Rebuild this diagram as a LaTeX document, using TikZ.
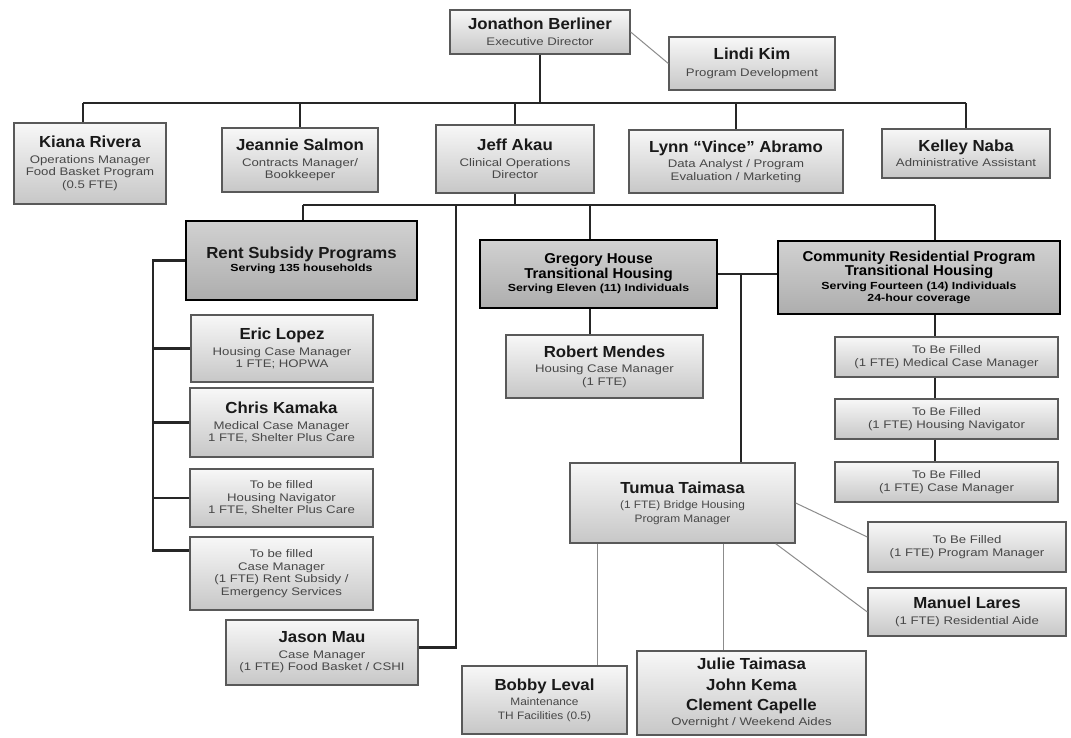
\documentclass[tikz,border=0pt]{standalone}
\usepackage{fontspec}
\setmainfont{Liberation Sans}
\newfontfamily\nmfam[FakeStretch=1.05]{Liberation Sans}
\newfontfamily\sbfam[FakeStretch=1.2]{Liberation Sans}
\newfontfamily\smfam[FakeStretch=1.1]{Liberation Sans}
\newcommand{\nmtxt}[1]{{\nmfam\bfseries\fontsize{16}{19}\selectfont\color{black!90}#1}}
\newcommand{\hdtxt}[1]{{\nmfam\bfseries\fontsize{14.3}{17}\selectfont\color{black}#1}}
\newcommand{\hsubtxt}[1]{{\sbfam\bfseries\fontsize{10.3}{12}\selectfont\color{black}#1}}
\tikzset{
  box/.style={draw=black!65, line width=1.3pt, top color=black!3, bottom color=black!22,
    inner sep=2pt, align=center, text=black!72, font=\sbfam\fontsize{11}{12.5}\selectfont},
  smallbox/.style={box, font=\smfam\fontsize{10.8}{13.5}\selectfont},
  hdr/.style={draw=black, line width=2.6pt, top color=black!18, bottom color=black!32,
    inner sep=2pt, align=center, text=black, font=\sbfam\fontsize{11}{12.5}\selectfont},
  conn/.style={line width=2.2pt, draw=black!85},
  thinl/.style={line width=1pt, draw=black!45},
}
\begin{document}
\begin{tikzpicture}[x=1pt,y=-1pt]
\useasboundingbox (0,0) rectangle (1071,738);
\fill[white] (0,0) rectangle (1071,738);

% top level
\node[box, minimum width=180pt, minimum height=44pt] (jb) at (540,32) {\nmtxt{Jonathon Berliner}\\[3pt]Executive Director};
\node[box, minimum width=166pt, minimum height=53pt] (lk) at (752,63.5) {\nmtxt{Lindi Kim}\\[4pt]Program Development};

\node[box, minimum width=152pt, minimum height=81pt] (kr) at (90,163.5) {\nmtxt{Kiana Rivera}\\[3pt]Operations Manager\\Food Basket Program\\(0.5 FTE)};
\node[box, minimum width=156pt, minimum height=64pt] (js) at (300,160) {\nmtxt{Jeannie Salmon}\\[3pt]Contracts Manager/\\Bookkeeper};
\node[box, minimum width=158pt, minimum height=68pt] (ja) at (515,159) {\nmtxt{Jeff Akau}\\[3pt]Clinical Operations\\Director};
\node[box, minimum width=214pt, minimum height=63pt] (la) at (736,161.5) {\nmtxt{Lynn “Vince” Abramo}\\[3pt]Data Analyst / Program\\Evaluation / Marketing};
\node[box, minimum width=168pt, minimum height=49pt] (kn) at (966,153.5) {\nmtxt{Kelley Naba}\\[3pt]Administrative Assistant};

% program headers
\node[hdr, minimum width=231pt, minimum height=79pt] (rs) at (301.5,260.5) {\nmtxt{Rent Subsidy Programs}\\[1pt]\hsubtxt{Serving 135 households}};
\node[hdr, minimum width=237pt, minimum height=68pt] (gh) at (598.5,274) {\hdtxt{Gregory House}\\\hdtxt{Transitional Housing}\\[1pt]\hsubtxt{Serving Eleven (11) Individuals}};
\node[hdr, minimum width=282pt, minimum height=73pt] (cr) at (919,277.5) {\hdtxt{Community Residential Program}\\\hdtxt{Transitional Housing}\\[1pt]\hsubtxt{Serving Fourteen (14) Individuals}\\\hsubtxt{24-hour coverage}};

% rent subsidy staff
\node[box, minimum width=182pt, minimum height=67pt] (el) at (282,348.5) {\nmtxt{Eric Lopez}\\[3pt]Housing Case Manager\\1 FTE; HOPWA};
\node[box, minimum width=183pt, minimum height=69pt] (ck) at (281.5,422.5) {\nmtxt{Chris Kamaka}\\[3pt]Medical Case Manager\\1 FTE, Shelter Plus Care};
\node[box, minimum width=183pt, minimum height=58pt] (hn) at (281.5,498) {To be filled\\Housing Navigator\\1 FTE, Shelter Plus Care};
\node[box, minimum width=183pt, minimum height=73pt] (cm) at (281.5,573.5) {To be filled\\Case Manager\\(1 FTE) Rent Subsidy /\\Emergency Services};
\node[box, minimum width=192pt, minimum height=65pt] (jm) at (322,652.5) {\nmtxt{Jason Mau}\\[3pt]Case Manager\\(1 FTE) Food Basket / CSHI};

% gregory house
\node[box, minimum width=197pt, minimum height=63pt] (rm) at (604.5,366.5) {\nmtxt{Robert Mendes}\\[3pt]Housing Case Manager\\(1 FTE)};

% community residential
\node[box, minimum width=223pt, minimum height=40pt] (c1) at (946.5,357) {To Be Filled\\(1 FTE) Medical Case Manager};
\node[box, minimum width=223pt, minimum height=40pt] (c2) at (946.5,419) {To Be Filled\\(1 FTE) Housing Navigator};
\node[box, minimum width=223pt, minimum height=40pt] (c3) at (946.5,482) {To Be Filled\\(1 FTE) Case Manager};

% bridge housing
\node[smallbox, minimum width=225pt, minimum height=80pt] (tt) at (682.5,503) {\nmtxt{Tumua Taimasa}\\[2pt](1 FTE) Bridge Housing\\Program Manager};
\node[box, minimum width=198pt, minimum height=50pt] (pm) at (967,547) {To Be Filled\\(1 FTE) Program Manager};
\node[box, minimum width=198pt, minimum height=48pt] (ml) at (967,612) {\nmtxt{Manuel Lares}\\[3pt](1 FTE) Residential Aide};
\node[smallbox, minimum width=165pt, minimum height=68pt] (bl) at (544.5,700) {\nmtxt{Bobby Leval}\\[2pt]Maintenance\\TH Facilities (0.5)};
\node[box, minimum width=229pt, minimum height=84pt] (jt) at (751.5,693) {\nmtxt{Julie Taimasa}\\[8pt]\nmtxt{John Kema}\\[8pt]\nmtxt{Clement Capelle}\\[2pt]Overnight / Weekend Aides};

% level 1 connectors
\coordinate (b1L) at (83,103);
\coordinate (b1R) at (966,103);
\draw[conn] (b1L) -- (b1R);
\draw[conn] (jb.south) -- (jb.south |- b1L);
\draw[conn] (b1L) -- (b1L |- kr.north);
\draw[conn] (js.north |- b1L) -- (js.north);
\draw[conn] (ja.north |- b1L) -- (ja.north);
\draw[conn] (la.north |- b1L) -- (la.north);
\draw[conn] (kn.north |- b1L) -- (kn.north);
\draw[thinl] (jb.east) -- (lk.west);

% level 2 connectors
\coordinate (b2L) at (303,205);
\coordinate (b2R) at (935,205);
\coordinate (g1) at (590,205);
\coordinate (jx) at (456,205);
\coordinate (jmc) at ([yshift=5pt]jm.east);
\draw[conn] (ja.south) -- (ja.south |- b2L);
\draw[conn] (b2L) -- (b2R);
\draw[conn] (b2L) -- (b2L |- rs.north);
\draw[conn] (g1) -- (g1 |- gh.north);
\draw[conn] (b2R) -- (b2R |- cr.north);
\draw[conn] (jx) |- (jmc);

% rent subsidy bracket
\coordinate (rx) at (153,257);
\coordinate (cmc) at ([yshift=23pt]cm.west);
\draw[conn] (rs.west) -- (rs.west -| rx) -- (rx |- cmc) -- (cmc);
\draw[conn] (el.west) -- (el.west -| rx);
\draw[conn] (ck.west) -- (ck.west -| rx);
\draw[conn] (hn.west) -- (hn.west -| rx);

% gregory / community
\draw[conn] (gh.south -| g1) -- (rm.north -| g1);
\draw[conn] (gh.east) -- (gh.east -| cr.west);
\coordinate (tx) at (741,274);
\draw[conn] (tx) -- (tx |- tt.north);
\draw[conn] (cr.south -| b2R) -- (c1.north -| b2R);
\draw[conn] (c1.south -| b2R) -- (c2.north -| b2R);
\draw[conn] (c2.south -| b2R) -- (c3.north -| b2R);

% bridge housing subtree
\coordinate (bx) at (597,0);
\coordinate (jx2) at (723,0);
\coordinate (pmc) at ([yshift=10pt]pm.west);
\coordinate (ttc) at ([xshift=-20pt]tt.south east);
\draw[thinl] (tt.south -| bx) -- (bl.north -| bx);
\draw[thinl] (tt.south -| jx2) -- (jt.north -| jx2);
\draw[thinl] (tt.east) -- (pmc);
\draw[thinl] (ttc) -- (ml.west);
\end{tikzpicture}
\end{document}
